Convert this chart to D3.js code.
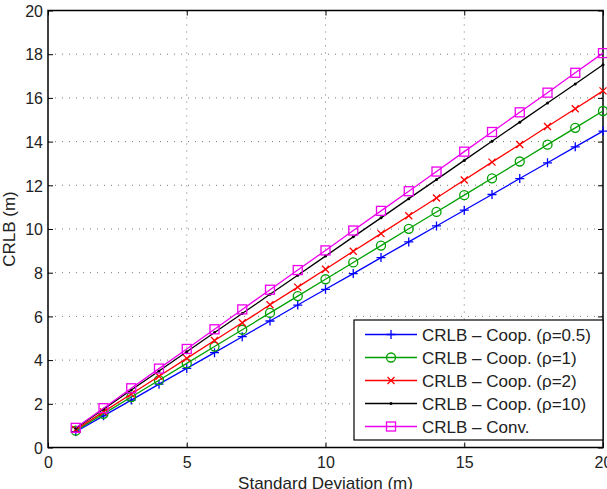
<!DOCTYPE html>
<html><head><meta charset="utf-8">
<script src="https://cdn.jsdelivr.net/npm/d3@7"></script>
<style>body{margin:0;background:#fff}svg{display:block}text{font-family:"Liberation Sans",Arial,sans-serif}</style>
</head><body><svg id="c" width="607" height="489"></svg>
<script>
const sigma = [1,2,3,4,5,6,7,8,9,10,11,12,13,14,15,16,17,18,19,20];
const coop05 = [0.72,1.45,2.17,2.90,3.62,4.34,5.07,5.79,6.52,7.24,7.96,8.69,9.41,10.14,10.86,11.58,12.31,13.03,13.76,14.48];
const coop1  = [0.77,1.54,2.31,3.08,3.85,4.62,5.39,6.16,6.93,7.70,8.47,9.24,10.01,10.78,11.55,12.32,13.09,13.86,14.63,15.40];
const coop2  = [0.82,1.63,2.45,3.26,4.08,4.90,5.71,6.53,7.34,8.16,8.98,9.79,10.61,11.42,12.24,13.06,13.87,14.69,15.50,16.32];
const coop10 = [0.88,1.75,2.63,3.50,4.38,5.26,6.13,7.01,7.88,8.76,9.64,10.51,11.39,12.26,13.14,14.02,14.89,15.77,16.64,17.52];
const conv   = [0.90,1.80,2.71,3.61,4.51,5.41,6.32,7.22,8.12,9.02,9.93,10.83,11.73,12.63,13.54,14.44,15.34,16.24,17.15,18.05];
const seriesNames = ["CRLB \u2013 Coop. (\u03c1=0.5)","CRLB \u2013 Coop. (\u03c1=1)","CRLB \u2013 Coop. (\u03c1=2)","CRLB \u2013 Coop. (\u03c1=10)","CRLB \u2013 Conv."];
const xTicks = [0,5,10,15,20];
const yTicks = [0,2,4,6,8,10,12,14,16,18,20];

const series = [
  {name:seriesNames[0], vals:coop05, color:"#0000ff", marker:"plus"},
  {name:seriesNames[1], vals:coop1, color:"#00a000", marker:"circle"},
  {name:seriesNames[2], vals:coop2, color:"#ff0000", marker:"x"},
  {name:seriesNames[3], vals:coop10, color:"#000000", marker:"dot"},
  {name:seriesNames[4], vals:conv, color:"#ee00ee", marker:"square"}
];

const svg = d3.select("#c");
const L=48, R=603, T=10.5, B=447.5;
const x = d3.scaleLinear().domain([0,20]).range([L,R]);
const y = d3.scaleLinear().domain([0,20]).range([B,T]);

// grid
const g = svg.append("g");
g.selectAll(".gx").data(xTicks.filter(d=>d>0&&d<20)).join("line")
  .attr("x1",d=>x(d)).attr("x2",d=>x(d)).attr("y1",T).attr("y2",B)
  .attr("stroke","#777").attr("stroke-width",1).attr("stroke-dasharray","1,6");
g.selectAll(".gy").data(yTicks.filter(d=>d>0&&d<20)).join("line")
  .attr("y1",d=>y(d)).attr("y2",d=>y(d)).attr("x1",L).attr("x2",R)
  .attr("stroke","#777").attr("stroke-width",1).attr("stroke-dasharray","1,6");

// axes
const ax = svg.append("g").attr("transform",`translate(0,${B})`)
  .call(d3.axisBottom(x).tickValues(xTicks).tickSize(-5).tickPadding(9).tickFormat(d3.format("d")));
const axT = svg.append("g").attr("transform",`translate(0,${T})`)
  .call(d3.axisTop(x).tickValues(xTicks).tickSize(-5).tickFormat(""));
const ay = svg.append("g").attr("transform",`translate(${L},0)`)
  .call(d3.axisLeft(y).tickValues(yTicks).tickSize(-5).tickPadding(5).tickFormat(d3.format("d")));
const ayR = svg.append("g").attr("transform",`translate(${R},0)`)
  .call(d3.axisRight(y).tickValues(yTicks).tickSize(-5).tickFormat(""));
[ax,axT,ay,ayR].forEach(a=>{
  a.select(".domain").remove();
  a.selectAll(".tick line").attr("stroke","#000").attr("stroke-width",1);
  a.selectAll("text").attr("font-size",16).attr("fill","#222").attr("font-family","Liberation Sans, Arial, sans-serif");
});
ay.selectAll("text").attr("dy","0.36em");
svg.append("rect").attr("x",L).attr("y",T).attr("width",R-L).attr("height",B-T)
  .attr("fill","none").attr("stroke","#000").attr("stroke-width",1.5);

// labels
svg.append("text").attr("x",(L+R)/2).attr("y",489).attr("text-anchor","middle")
  .attr("font-size",17).attr("fill","#222").text("Standard Deviation (m)");
svg.append("text").attr("transform",`translate(15,${(T+B)/2}) rotate(-90)`).attr("text-anchor","middle")
  .attr("font-size",17).attr("fill","#222").text("CRLB (m)");

function drawMarker(sel, type, color){
  const s=4.5;
  if(type==="plus"){
    sel.append("path").attr("d",`M${-s},0H${s}M0,${-s}V${s}`).attr("stroke",color).attr("stroke-width",1.3).attr("fill","none");
  } else if(type==="circle"){
    sel.append("circle").attr("r",s).attr("stroke",color).attr("stroke-width",1.3).attr("fill","none");
  } else if(type==="x"){
    const t=3.5;
    sel.append("path").attr("d",`M${-t},${-t}L${t},${t}M${-t},${t}L${t},${-t}`).attr("stroke",color).attr("stroke-width",1.3).attr("fill","none");
  } else if(type==="dot"){
    sel.append("circle").attr("r",1.5).attr("fill",color);
  } else if(type==="square"){
    sel.append("rect").attr("x",-s).attr("y",-s).attr("width",2*s).attr("height",2*s).attr("stroke",color).attr("stroke-width",1.3).attr("fill","none");
  }
}

const line = d3.line().x((d,i)=>x(sigma[i])).y(d=>y(d));
const plot = svg.append("g");
series.forEach(s=>{
  plot.append("path").datum(s.vals).attr("d",line).attr("fill","none").attr("stroke",s.color).attr("stroke-width",1.3);
  s.vals.forEach((v,i)=>{
    const m = plot.append("g").attr("transform",`translate(${x(sigma[i])},${y(v)})`);
    drawMarker(m, s.marker, s.color);
  });
});

// legend
const lg = svg.append("g");
lg.append("rect").attr("x",354).attr("y",320).attr("width",249).attr("height",120)
  .attr("fill","#fff").attr("stroke","#000").attr("stroke-width",1.2);
series.forEach((s,i)=>{
  const yy = 334.5 + i*23;
  lg.append("line").attr("x1",365).attr("x2",417).attr("y1",yy).attr("y2",yy).attr("stroke",s.color).attr("stroke-width",1.3);
  const m = lg.append("g").attr("transform",`translate(391,${yy})`);
  drawMarker(m, s.marker, s.color);
  lg.append("text").attr("x",422).attr("y",yy+6).attr("font-size",17).attr("fill","#222").text(s.name);
});
</script></body></html>
